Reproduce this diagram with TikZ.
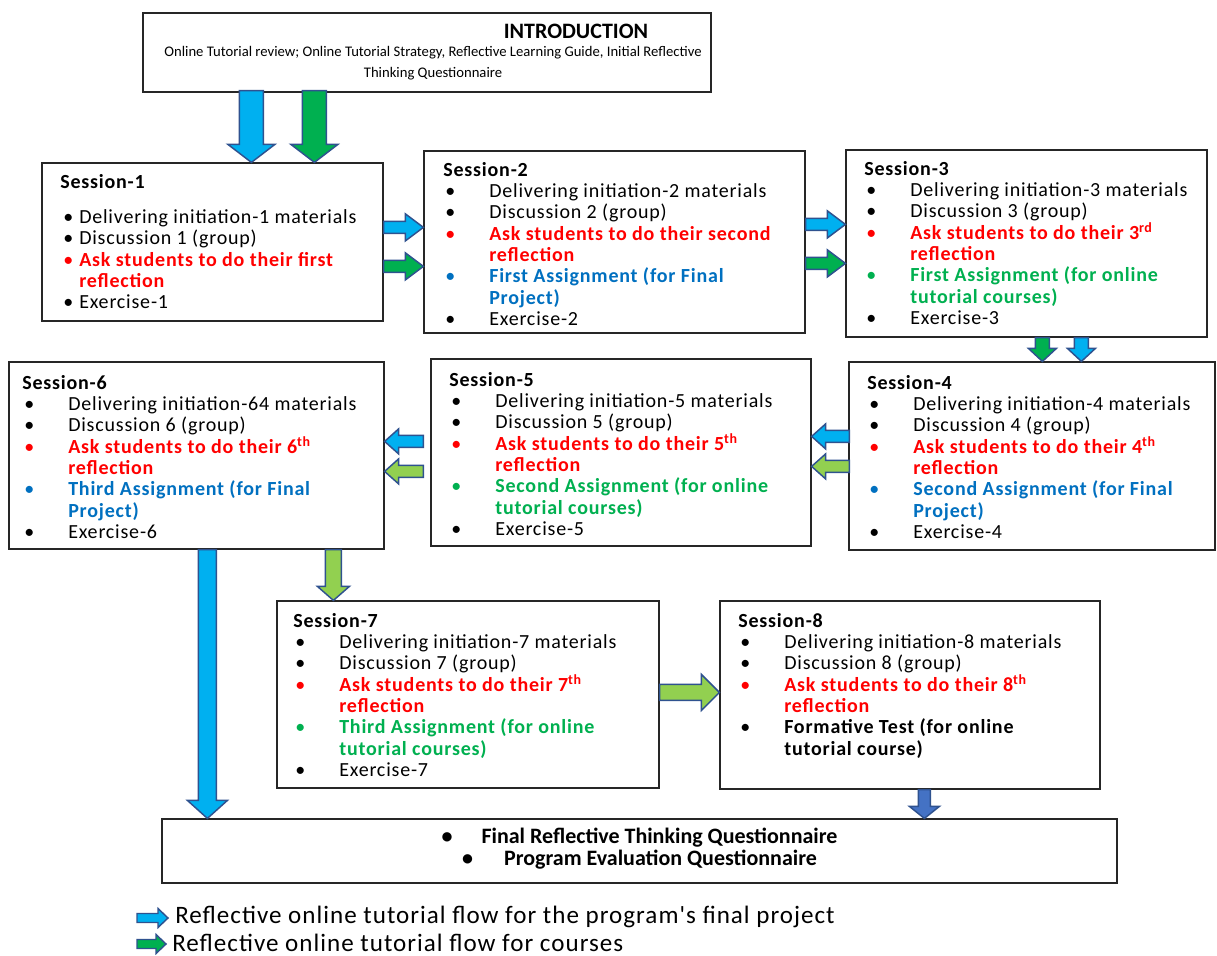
\documentclass[tikz,border=0pt]{standalone}
\usepackage{fontspec}
\setmainfont{Carlito}
\newfontfamily\itemfont{Carlito}[LetterSpace=4]
\usetikzlibrary{calc,fit}
\definecolor{cblue}{HTML}{00B0F0}
\definecolor{cgreen}{HTML}{00B050}
\definecolor{clgreen}{HTML}{92D050}
\definecolor{cdblue}{HTML}{4472C4}
\definecolor{cedge}{HTML}{2F528F}
\definecolor{tred}{HTML}{FF0000}
\definecolor{tblue}{HTML}{0070C0}
\definecolor{tgreen}{HTML}{00B050}
\newdimen\px \px=0.75pt
\newdimen\itw \newdimen\itb
\itw=46\px \itb=2\px
\newcommand\itm[2]{\makebox[\itw][l]{\hspace*{\itb}\textcolor{#1}{\textbullet}}\textcolor{#1}{#2}}
\newcommand\cnt[2]{\hspace*{\itw}\textcolor{#1}{#2}}
\newcommand\boxnode[5]{\path (#2,#3) coordinate (#1-a) (#4,#5) coordinate (#1-b);
  \node[box, fit=(#1-a)(#1-b)] (#1) {};}
% horizontal block arrow: style, start, end, shaft half, head half, head length (px)
\newcommand\harrow[6]{\draw[#1] let \p1=#2, \p2=#3, \n1={sign(\x2-\x1)*#6*0.75}, \n2={#4*0.75}, \n3={#5*0.75} in
  (\x1,\y1+\n2) -- (\x2-\n1,\y1+\n2) -- (\x2-\n1,\y1+\n3) -- (\x2,\y1) -- (\x2-\n1,\y1-\n3) -- (\x2-\n1,\y1-\n2) -- (\x1,\y1-\n2) -- cycle;}
\newcommand\varrow[6]{\draw[#1] let \p1=#2, \p2=#3, \n1={sign(\y2-\y1)*#6*0.75}, \n2={#4*0.75}, \n3={#5*0.75} in
  (\x1+\n2,\y1) -- (\x1+\n2,\y2-\n1) -- (\x1+\n3,\y2-\n1) -- (\x1,\y2) -- (\x1-\n3,\y2-\n1) -- (\x1-\n2,\y2-\n1) -- (\x1-\n2,\y1) -- cycle;}
\tikzset{
  box/.style={draw=black!85, line width=0.9pt, inner sep=0pt},
  txt/.style={anchor=north west, inner sep=0pt, align=left, font=\itemfont\fontsize{15}{16}\selectfont},
  arr/.style={draw=cedge, line width=1.1pt, line join=miter},
  ablue/.style={arr, fill=cblue},
  agreen/.style={arr, fill=cgreen},
  algreen/.style={arr, fill=clgreen},
  adblue/.style={arr, fill=cdblue},
  legtxt/.style={anchor=west, inner sep=0pt, font=\itemfont\fontsize{18.8}{20}\selectfont},
}
\begin{document}
\begin{tikzpicture}[x=0.75pt,y=-0.75pt]
\path[use as bounding box, fill=white] (0,0) rectangle (1217,956);

% boxes
\boxnode{intro}{143}{13}{711}{92}
\boxnode{s1}{42}{163}{383}{321}
\boxnode{s2}{424}{151}{805}{333}
\boxnode{s3}{846}{150}{1207}{337}
\boxnode{s6}{9}{362}{384}{549}
\boxnode{s5}{431}{359}{811}{546}
\boxnode{s4}{849}{362}{1215}{550}
\boxnode{s7}{277}{601}{659}{788}
\boxnode{s8}{720}{601}{1100}{789}
\boxnode{fin}{162}{819}{1117}{883}

% intro text
\node[inner sep=0pt, font=\bfseries\fontsize{16.5}{18}\selectfont] (introtitle) at (576,31) {INTRODUCTION};
\node[inner sep=0pt, align=center, font=\fontsize{11}{15.75}\selectfont] (introbody) at (433,63)
  {Online Tutorial review; Online Tutorial Strategy, Reflective Learning Guide, Initial Reflective\\Thinking Questionnaire};

% session texts
\itw=19\px \itb=3\px
\node[txt] (s1t) at (60,174) {\textbf{Session-1}\\[10.3pt]
  \itm{black}{Delivering initiation-1 materials}\\
  \itm{black}{Discussion 1 (group)}\\
  \itm{tred}{\textbf{Ask students to do their first}}\\
  \cnt{tred}{\textbf{reflection}}\\
  \itm{black}{Exercise-1}};
\itw=46\px \itb=2\px
\node[txt] (s2t) at (443,162) {\textbf{Session-2}\\
  \itm{black}{Delivering initiation-2 materials}\\
  \itm{black}{Discussion 2 (group)}\\
  \itm{tred}{\textbf{Ask students to do their second}}\\
  \cnt{tred}{\textbf{reflection}}\\
  \itm{tblue}{\textbf{First Assignment (for Final}}\\
  \cnt{tblue}{\textbf{Project)}}\\
  \itm{black}{Exercise-2}};
\node[txt] (s3t) at (864,161) {\textbf{Session-3}\\
  \itm{black}{Delivering initiation-3 materials}\\
  \itm{black}{Discussion 3 (group)}\\
  \itm{tred}{\textbf{Ask students to do their 3\textsuperscript{rd}}}\\
  \cnt{tred}{\textbf{reflection}}\\
  \itm{tgreen}{\textbf{First Assignment (for online}}\\
  \cnt{tgreen}{\textbf{tutorial courses)}}\\
  \itm{black}{Exercise-3}};
\node[txt] (s6t) at (22,375) {\textbf{Session-6}\\
  \itm{black}{Delivering initiation-64 materials}\\
  \itm{black}{Discussion 6 (group)}\\
  \itm{tred}{\textbf{Ask students to do their 6\textsuperscript{th}}}\\
  \cnt{tred}{\textbf{reflection}}\\
  \itm{tblue}{\textbf{Third Assignment (for Final}}\\
  \cnt{tblue}{\textbf{Project)}}\\
  \itm{black}{Exercise-6}};
\node[txt] (s5t) at (449,372) {\textbf{Session-5}\\
  \itm{black}{Delivering initiation-5 materials}\\
  \itm{black}{Discussion 5 (group)}\\
  \itm{tred}{\textbf{Ask students to do their 5\textsuperscript{th}}}\\
  \cnt{tred}{\textbf{reflection}}\\
  \itm{tgreen}{\textbf{Second Assignment (for online}}\\
  \cnt{tgreen}{\textbf{tutorial courses)}}\\
  \itm{black}{Exercise-5}};
\node[txt] (s4t) at (867,375) {\textbf{Session-4}\\
  \itm{black}{Delivering initiation-4 materials}\\
  \itm{black}{Discussion 4 (group)}\\
  \itm{tred}{\textbf{Ask students to do their 4\textsuperscript{th}}}\\
  \cnt{tred}{\textbf{reflection}}\\
  \itm{tblue}{\textbf{Second Assignment (for Final}}\\
  \cnt{tblue}{\textbf{Project)}}\\
  \itm{black}{Exercise-4}};
\node[txt] (s7t) at (293,613) {\textbf{Session-7}\\
  \itm{black}{Delivering initiation-7 materials}\\
  \itm{black}{Discussion 7 (group)}\\
  \itm{tred}{\textbf{Ask students to do their 7\textsuperscript{th}}}\\
  \cnt{tred}{\textbf{reflection}}\\
  \itm{tgreen}{\textbf{Third Assignment (for online}}\\
  \cnt{tgreen}{\textbf{tutorial courses)}}\\
  \itm{black}{Exercise-7}};
\node[txt] (s8t) at (738,613) {\textbf{Session-8}\\
  \itm{black}{Delivering initiation-8 materials}\\
  \itm{black}{Discussion 8 (group)}\\
  \itm{tred}{\textbf{Ask students to do their 8\textsuperscript{th}}}\\
  \cnt{tred}{\textbf{reflection}}\\
  \itm{black}{\textbf{Formative Test (for online}}\\
  \cnt{black}{\textbf{tutorial course)}}};

% final box text
\node[inner sep=0pt, align=center, font=\bfseries\fontsize{16.5}{16.5}\selectfont] (fint) at (639.5,849)
  {\textbullet\hspace{29\px}Final Reflective Thinking Questionnaire\\
   \textbullet\hspace{31\px}Program Evaluation Questionnaire};

% block arrows
\varrow{ablue}{($(intro.south west)+(109,-2)$)}{(s1.north)}{12}{23.5}{18}
\varrow{agreen}{($(intro.south west)+(172,-2)$)}{(s1.north)}{12}{23.5}{18}
\harrow{ablue}{($(s1.north east)+(0,65)$)}{(s2.west)}{6}{13.5}{18}
\harrow{agreen}{($(s1.north east)+(0,104)$)}{(s2.west)}{6}{13.5}{18}
\harrow{ablue}{($(s2.north east)+(0,74)$)}{(s3.west)}{6}{13.5}{18}
\harrow{agreen}{($(s2.north east)+(0,113)$)}{(s3.west)}{6}{13.5}{18}
\varrow{agreen}{($(s3.south west)+(197,0)$)}{(s4.north)}{7}{14}{13}
\varrow{ablue}{($(s3.south west)+(236,0)$)}{(s4.north)}{7}{14}{13}
\harrow{ablue}{($(s4.north west)+(1,75)$)}{(s5.east)}{6}{12.5}{14}
\harrow{algreen}{($(s4.north west)+(1,105)$)}{(s5.east)}{6}{12.5}{14}
\harrow{ablue}{($(s5.north west)+(-7,83)$)}{(s6.east)}{6}{12.5}{14}
\harrow{algreen}{($(s5.north west)+(-7,113)$)}{(s6.east)}{6}{12.5}{14}
\varrow{ablue}{($(s6.south west)+(199,0)$)}{(fin.north)}{9}{20}{18}
\varrow{algreen}{($(s6.south west)+(325,0)$)}{(s7.north)}{8}{16}{14}
\harrow{algreen}{($(s7.north east)+(0,92)$)}{(s8.west)}{8}{18}{18}
\varrow{adblue}{($(s8.south west)+(205,0)$)}{(fin.north)}{6}{15}{12}

% legend
\coordinate (lg1a) at (137,918);
\coordinate (lg1b) at (168,918);
\coordinate (lg2a) at (137,944);
\coordinate (lg2b) at (166,944);
\harrow{ablue}{(lg1a)}{(lg1b)}{4.5}{9.5}{10}
\harrow{agreen}{(lg2a)}{(lg2b)}{4.5}{9.5}{10}
\node[legtxt] (lgt1) at (175,917) {Reflective online tutorial flow for the program's final project};
\node[legtxt] (lgt2) at (172,943) {Reflective online tutorial flow for courses};
\end{tikzpicture}
\end{document}
